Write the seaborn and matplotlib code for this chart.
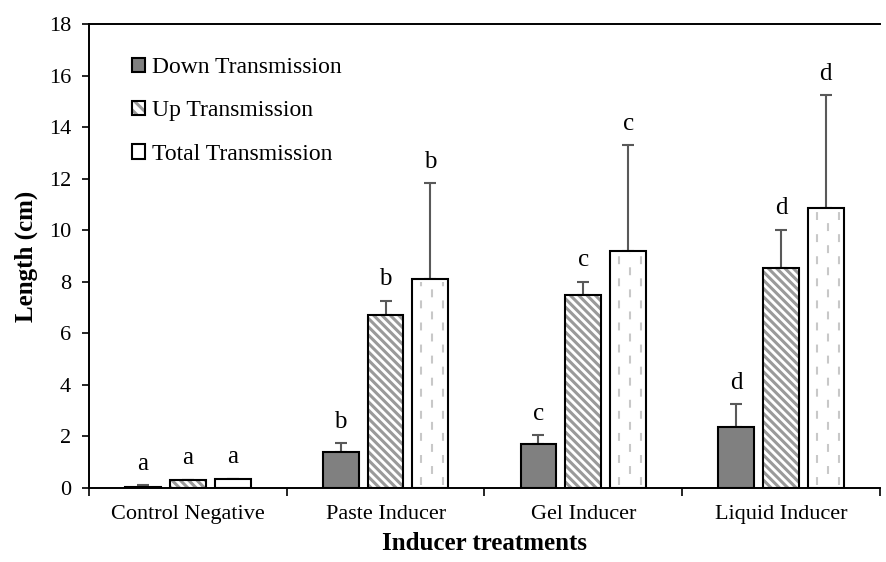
import numpy as np
import pandas as pd
import matplotlib
matplotlib.use("Agg")
import matplotlib.pyplot as plt
import seaborn as sns
from matplotlib.patches import Patch, Rectangle
from matplotlib.legend_handler import HandlerTuple

categories = ["Control Negative", "Paste Inducer", "Gel Inducer", "Liquid Inducer"]
series = ["Down Transmission", "Up Transmission", "Total Transmission"]
down_vals = [0.05, 1.40, 1.70, 2.35]
up_vals = [0.30, 6.72, 7.50, 8.52]
total_vals = [0.33, 8.10, 9.20, 10.85]
down_err = [0.05, 0.33, 0.35, 0.90]
up_err = [0.02, 0.55, 0.50, 1.50]
total_err = [0.03, 3.73, 4.10, 4.40]
letters_down = ["a", "b", "c", "d"]
letters_up = ["a", "b", "c", "d"]
letters_total = ["a", "b", "c", "d"]
yticks = [0, 2, 4, 6, 8, 10, 12, 14, 16, 18]

sns.set_style("white")
plt.rcParams['font.family'] = ['Liberation Serif', 'DejaVu Serif']
plt.rcParams['hatch.linewidth'] = 2.2
plt.rcParams['text.color'] = 'black'
plt.rcParams['axes.labelcolor'] = 'black'
plt.rcParams['xtick.color'] = 'black'
plt.rcParams['ytick.color'] = 'black'

rows = []
vals = [down_vals, up_vals, total_vals]
errs = [down_err, up_err, total_err]
lets = [letters_down, letters_up, letters_total]
for si, s in enumerate(series):
    for ci, c in enumerate(categories):
        rows.append({"cat": c, "series": s, "val": vals[si][ci], "err": errs[si][ci], "let": lets[si][ci]})
df = pd.DataFrame(rows)

fig = plt.figure(figsize=(8.87, 5.62), dpi=100)
ax = fig.add_axes([0.1003, 0.1317, 0.8917, 0.8253])

HATCH_GREY = "#9a9a9a"
DASH_GREY = "#c8c8c8"
palette = {"Down Transmission": "#808080", "Up Transmission": "#ffffff", "Total Transmission": "#ffffff"}
sns.barplot(data=df, x="cat", y="val", hue="series", order=categories, hue_order=series,
            palette=palette, width=0.68, gap=0.2, errorbar=None, edgecolor="black",
            linewidth=1.5, saturation=1, ax=ax, legend=False, zorder=2)

containers = list(ax.containers)
for si, cont in enumerate(containers):
    for ci, p in enumerate(list(cont.patches)):
        x = p.get_x() + p.get_width() / 2
        w = p.get_width()
        top = p.get_height()
        if si == 1:
            p.set_hatch("\\\\\\\\")
            p.set_edgecolor(HATCH_GREY)
            p.set_linewidth(0)
            ax.add_patch(Rectangle((p.get_x(), 0), w, top, fill=False, ec="black", lw=1.5, zorder=2.6))
        if si == 2 and top > 0.5:
            for frac, off in ((0.24, 0.0), (0.55, 5.3), (0.86, 0.0)):
                ax.plot([p.get_x() + w * frac] * 2, [0.1, top - 0.1],
                        color=DASH_GREY, lw=1.5, ls=(off, (3.8, 6.8)), zorder=2.5)
        e = errs[si][ci]
        ax.errorbar(x, top, yerr=[[0], [e]], fmt="none", ecolor="#595959",
                    elinewidth=1.5, capsize=4.5, capthick=1.5, zorder=1.5)
        ax.text(x, top + e + 0.6, lets[si][ci], ha="center", va="baseline", fontsize=18)

ax.set_ylim(0, 18)
ax.set_xlim(-0.5, 3.5)
ax.set_yticks(yticks)
ax.set_yticklabels([str(t) for t in yticks], fontsize=16)
ax.set_xticks(range(4))
ax.set_xticklabels(categories, fontsize=16)
ax.tick_params(axis="x", length=0, pad=12)
ax.set_xticks([-0.5, 0.5, 1.5, 2.5, 3.5], minor=True)
ax.tick_params(axis="x", which="minor", length=6, width=1.2, direction="out", bottom=True)
ax.tick_params(axis="y", length=5, width=1.2, direction="out", left=True, pad=8)
ax.spines["right"].set_visible(False)
for s in ["left", "bottom", "top"]:
    ax.spines[s].set_color("black")
    ax.spines[s].set_linewidth(1.4)

ax.set_ylabel("Length (cm)", fontsize=18, fontweight="bold", labelpad=8)
ax.set_xlabel("Inducer treatments", fontsize=18, fontweight="bold", labelpad=6)

h_down = Patch(facecolor="#808080", edgecolor="black", linewidth=1.5)
h_up_fill = Patch(facecolor="white", edgecolor=HATCH_GREY, linewidth=0, hatch="\\\\\\")
h_up_edge = Patch(facecolor="none", edgecolor="black", linewidth=1.5)
h_total = Patch(facecolor="white", edgecolor="black", linewidth=1.5)
leg = ax.legend([h_down, (h_up_fill, h_up_edge), h_total], series, loc="upper left",
                bbox_to_anchor=(0.028, 0.975), frameon=False,
                fontsize=17, handlelength=0.55, handleheight=0.55, handletextpad=0.3,
                labelspacing=0.95, handler_map={tuple: HandlerTuple(ndivide=1, pad=0)})

fig.savefig("out.png", dpi=100)
